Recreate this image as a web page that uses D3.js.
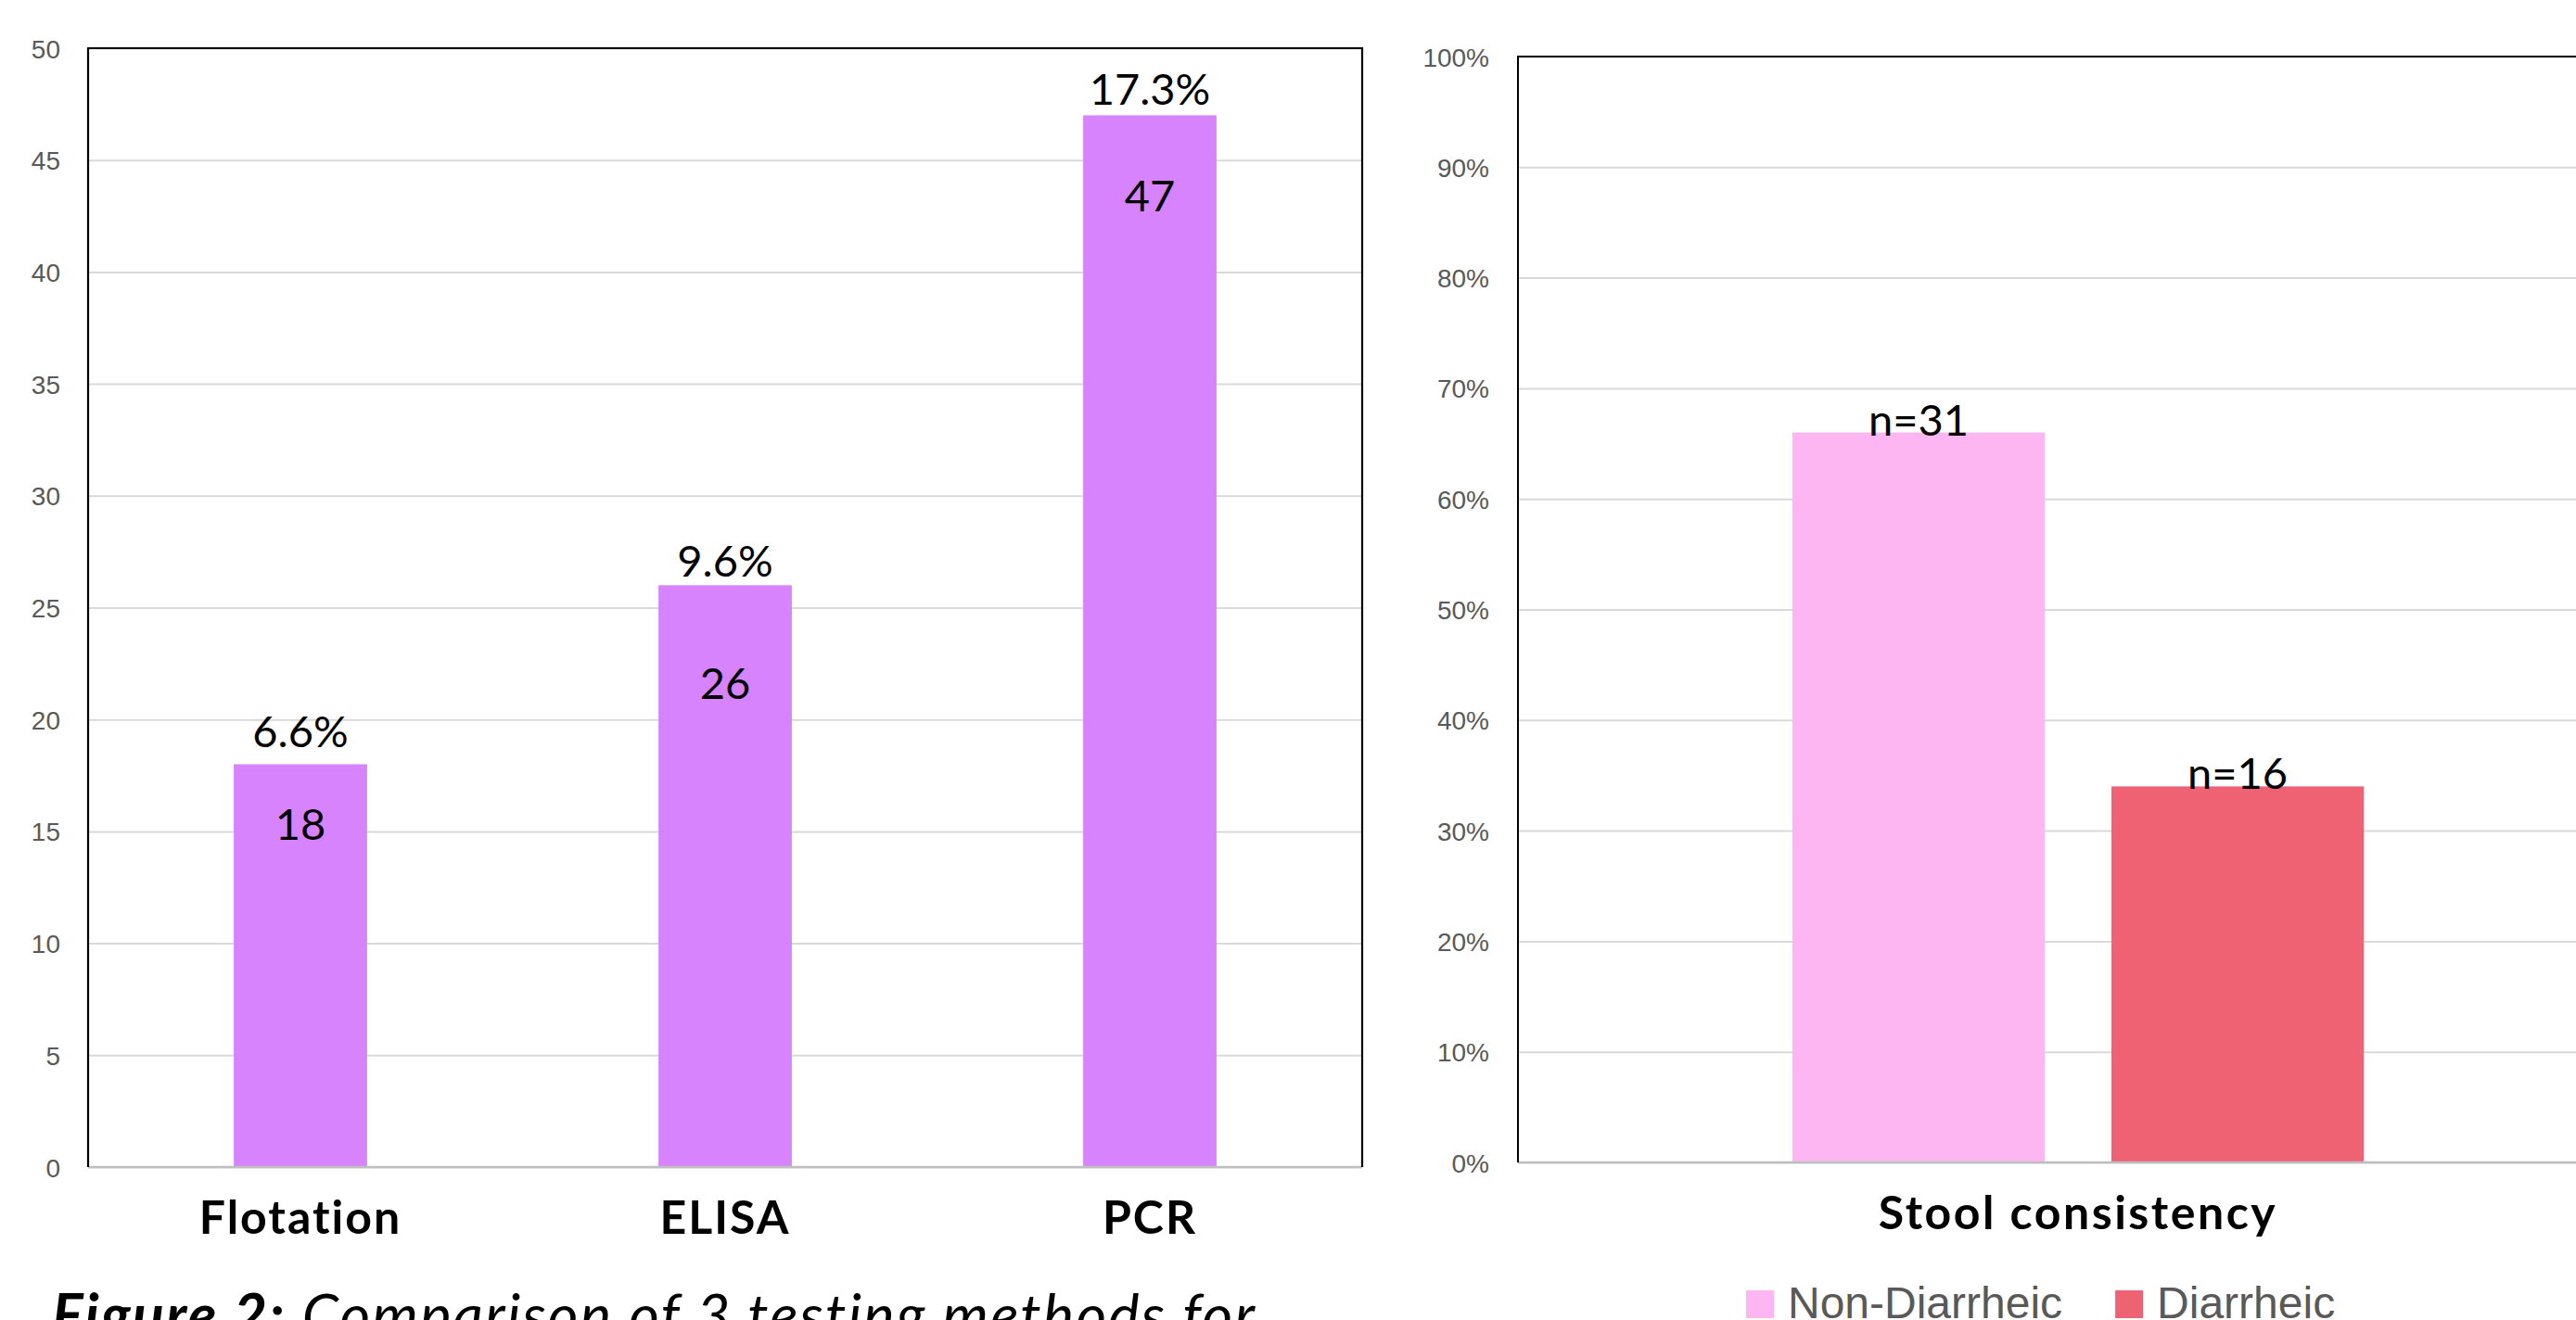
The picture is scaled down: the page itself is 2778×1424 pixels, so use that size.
<!DOCTYPE html>
<html>
<head>
<meta charset="utf-8">
<script src="https://cdn.jsdelivr.net/npm/d3@7"></script>
<style>
  html, body { margin: 0; padding: 0; background: #fff; }
  svg { display: block; }
  .grid line { stroke: #d9d9d9; stroke-width: 2; }
  .grid text { font-family: "Liberation Sans", Arial, sans-serif; font-size: 28px; fill: #595959; }
</style>
</head>
<body>
<svg id="figure" width="2778" height="1424"></svg>
<script>
// left chart: positives per testing method
const methods = ['Flotation', 'ELISA', 'PCR'];
const positives = [18, 26, 47];
const positiveRates = ['6.6%', '9.6%', '17.3%'];

// right chart: stool consistency of positives
const stoolCategory = ['Stool consistency'];
const stoolGroups = ['Non-Diarrheic', 'Diarrheic'];
const stoolShares = [0.66, 0.34];
const stoolCounts = ['n=31', 'n=16'];

const caption = ['Figure 2:', ' Comparison of 3 testing methods for'];

const purple = '#d683fd';
const stoolColors = ['#fdb6f2', '#ef6274'];
const labelFont = 'Lato, "Open Sans", sans-serif';
const tickFont = '"Liberation Sans", Arial, sans-serif';

// where the count labels sit inside each bar (px below bar top)
const innerLabelDy = [82, 123, 104];
const outerLabelGap = [18, 9, 11];

const svg = d3.select('#figure');
svg.append('rect').attr('width', 2778).attr('height', 1424).attr('fill', '#fff');

// LEFT CHART

const left = {x0: 95, x1: 1469, y0: 52, y1: 1259};

const xMethod = d3.scaleBand()
    .domain(methods)
    .range([left.x0, left.x1])
    .paddingInner(0.686)
    .paddingOuter(0.343);

const yCount = d3.scaleLinear()
    .domain([0, 50])
    .range([left.y1, left.y0]);

svg.append('g')
    .attr('class', 'grid')
    .attr('transform', `translate(${left.x0},0)`)
    .call(d3.axisLeft(yCount).ticks(10).tickSize(-(left.x1 - left.x0)).tickPadding(30))
    .call(g => g.select('.domain').remove())
    .call(g => g.selectAll('text').attr('dy', '0.36em'));

svg.selectAll('.methodBar')
    .data(positives)
    .enter()
    .append('rect')
    .attr('class', 'methodBar')
    .attr('x', (d, i) => xMethod(methods[i]))
    .attr('width', xMethod.bandwidth())
    .attr('y', d => yCount(d))
    .attr('height', d => yCount(0) - yCount(d))
    .attr('fill', purple);

svg.selectAll('.rateLabel')
    .data(positives)
    .enter()
    .append('text')
    .attr('class', 'rateLabel')
    .attr('x', (d, i) => xMethod(methods[i]) + xMethod.bandwidth() / 2)
    .attr('y', (d, i) => yCount(d) - outerLabelGap[i])
    .attr('text-anchor', 'middle')
    .attr('font-family', labelFont)
    .attr('font-size', 47)
    .text((d, i) => positiveRates[i]);

svg.selectAll('.countLabel')
    .data(positives)
    .enter()
    .append('text')
    .attr('class', 'countLabel')
    .attr('x', (d, i) => xMethod(methods[i]) + xMethod.bandwidth() / 2)
    .attr('y', (d, i) => yCount(d) + innerLabelDy[i])
    .attr('text-anchor', 'middle')
    .attr('font-family', labelFont)
    .attr('font-size', 47)
    .text(d => d);

svg.selectAll('.methodName')
    .data(methods)
    .enter()
    .append('text')
    .attr('class', 'methodName')
    .attr('x', d => xMethod(d) + xMethod.bandwidth() / 2)
    .attr('y', 1331)
    .attr('text-anchor', 'middle')
    .attr('font-family', labelFont)
    .attr('font-weight', 700)
    .attr('font-size', 50)
    .attr('letter-spacing', 2)
    .text(d => d);

// frame
svg.append('line').attr('x1', left.x0).attr('x2', left.x1).attr('y1', left.y1).attr('y2', left.y1)
    .attr('stroke', '#bfbfbf').attr('stroke-width', 2.5);
svg.append('path')
    .attr('d', `M${left.x0},${left.y1}V${left.y0}H${left.x1}V${left.y1}`)
    .attr('fill', 'none').attr('stroke', '#000').attr('stroke-width', 2.2);

// caption
const cap = svg.append('text')
    .attr('x', 56)
    .attr('y', 1441)
    .attr('font-family', labelFont)
    .attr('font-style', 'italic')
    .attr('font-size', 63)
    .attr('letter-spacing', 2.2);
cap.append('tspan').attr('font-weight', 700).text(caption[0]);
cap.append('tspan').text(caption[1]);

// RIGHT CHART

const right = {x0: 1637, x1: 2845, y0: 61, y1: 1254};

const xStool = d3.scaleBand()
    .domain(stoolCategory)
    .range([right.x0, right.x1])
    .paddingInner(0)
    .paddingOuter(0.48);

const xGroup = d3.scaleBand()
    .domain(stoolGroups)
    .range([0, xStool.bandwidth()])
    .paddingInner(0.209);

const yShare = d3.scaleLinear()
    .domain([0, 1])
    .range([right.y1, right.y0]);

svg.append('g')
    .attr('class', 'grid')
    .attr('transform', `translate(${right.x0},0)`)
    .call(d3.axisLeft(yShare).ticks(10, '.0%').tickSize(-(right.x1 - right.x0)).tickPadding(31))
    .call(g => g.select('.domain').remove())
    .call(g => g.selectAll('text').attr('dy', '0.36em'));

const groupX = i => xStool(stoolCategory[0]) + xGroup(stoolGroups[i]);

svg.selectAll('.stoolBar')
    .data(stoolShares)
    .enter()
    .append('rect')
    .attr('class', 'stoolBar')
    .attr('x', (d, i) => groupX(i))
    .attr('width', xGroup.bandwidth())
    .attr('y', d => yShare(d))
    .attr('height', d => yShare(0) - yShare(d))
    .attr('fill', (d, i) => stoolColors[i]);

svg.selectAll('.stoolLabel')
    .data(stoolShares)
    .enter()
    .append('text')
    .attr('class', 'stoolLabel')
    .attr('x', (d, i) => groupX(i) + xGroup.bandwidth() / 2)
    .attr('y', d => yShare(d) + 3)
    .attr('text-anchor', 'middle')
    .attr('font-family', labelFont)
    .attr('font-size', 47)
    .text((d, i) => stoolCounts[i]);

svg.append('text')
    .attr('x', xStool(stoolCategory[0]) + xStool.bandwidth() / 2)
    .attr('y', 1326)
    .attr('text-anchor', 'middle')
    .attr('font-family', labelFont)
    .attr('font-weight', 700)
    .attr('font-size', 50)
    .attr('letter-spacing', 2.5)
    .text(stoolCategory[0]);

svg.append('line').attr('x1', right.x0).attr('x2', right.x1).attr('y1', right.y1).attr('y2', right.y1)
    .attr('stroke', '#bfbfbf').attr('stroke-width', 2.5);
svg.append('path')
    .attr('d', `M${right.x0},${right.y1}V${right.y0}H${right.x1}V${right.y1}`)
    .attr('fill', 'none').attr('stroke', '#000').attr('stroke-width', 2);

// legend
const legend = svg.append('g').attr('transform', 'translate(1883,1422)');
let lx = 0;
stoolGroups.forEach((name, i) => {
    const item = legend.append('g').attr('transform', `translate(${lx},0)`);
    item.append('rect')
        .attr('x', 0).attr('y', -30)
        .attr('width', 30).attr('height', 30)
        .attr('fill', stoolColors[i]);
    const t = item.append('text')
        .attr('x', 45)
        .attr('y', 0)
        .attr('font-family', tickFont)
        .attr('font-size', 48)
        .attr('fill', '#595959')
        .text(name);
    lx += 45 + t.node().getComputedTextLength() + 57;
});
</script>
</body>
</html>
